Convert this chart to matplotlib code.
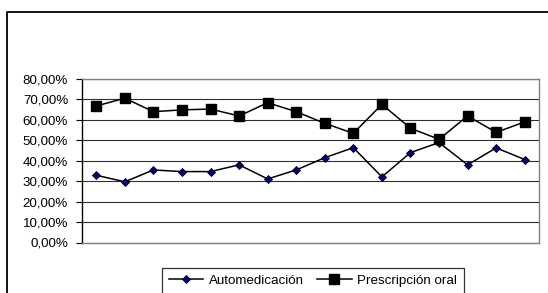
import matplotlib
matplotlib.use("Agg")
import matplotlib.pyplot as plt
from matplotlib.lines import Line2D
from matplotlib.ticker import FuncFormatter

plt.rcParams['font.family'] = ['Liberation Sans', 'DejaVu Sans']

categories = list(range(1, 17))
automedicacion = [32.9, 29.7, 35.5, 34.7, 34.7, 38.0, 31.1, 35.5, 41.5, 46.4, 32.1, 44.0, 48.9, 38.0, 46.3, 40.6]
prescripcion = [66.8, 70.6, 64.0, 64.9, 65.3, 61.9, 68.4, 64.0, 58.3, 53.4, 67.6, 55.9, 50.5, 61.9, 53.9, 59.0]
series_names = ["Automedicación", "Prescripción oral"]
yticks = [0, 10, 20, 30, 40, 50, 60, 70, 80]

W, H = 548, 293
fig = plt.figure(figsize=(W / 100, H / 100), dpi=100)
ax = fig.add_axes([82 / W, 1 - 242.5 / H, (539 - 82) / W, (242.5 - 79) / H])

x = list(range(len(categories)))
ax.plot(x, automedicacion, color='black', lw=1.1, marker='D', markersize=4.2,
        markerfacecolor='#000080', markeredgecolor='black', markeredgewidth=0.6,
        label=series_names[0], zorder=3)
ax.plot(x, prescripcion, color='black', lw=1.1, marker='s', markersize=6.5,
        markerfacecolor='black', markeredgecolor='black', label=series_names[1], zorder=3)

ax.set_xlim(-0.5, len(categories) - 0.5)
ax.set_ylim(0, 80)
ax.set_yticks(yticks)
ax.yaxis.set_major_formatter(FuncFormatter(lambda v, p: f"{v:.2f}".replace('.', ',') + "%"))
ax.set_xticks([])
ax.grid(axis='y', color='#303030', lw=0.8, zorder=1)
ax.set_axisbelow(True)
for s in ['top', 'right', 'bottom']:
    ax.spines[s].set_color('#808080')
    ax.spines[s].set_linewidth(1.0)
ax.spines['left'].set_color('black')
ax.spines['left'].set_linewidth(1.0)
ax.tick_params(axis='y', direction='out', length=4, width=0.8, pad=6, labelsize=9.6, colors='black')

# outer chart border (top and left visible)
fig.add_artist(Line2D([7 / W, 7 / W, 1.0], [0.0, 1 - 12 / H, 1 - 12 / H],
                      transform=fig.transFigure, color='black', lw=1.3))

leg = fig.legend(loc='upper left', bbox_to_anchor=(162 / W, 1 - 268 / H), ncol=2,
                 frameon=True, fancybox=False, edgecolor='black', fontsize=9.6,
                 handlelength=2.6, columnspacing=1.0, handletextpad=0.4,
                 borderpad=0.5, borderaxespad=0)
leg.get_frame().set_linewidth(0.9)

fig.savefig("out.png", dpi=100)
